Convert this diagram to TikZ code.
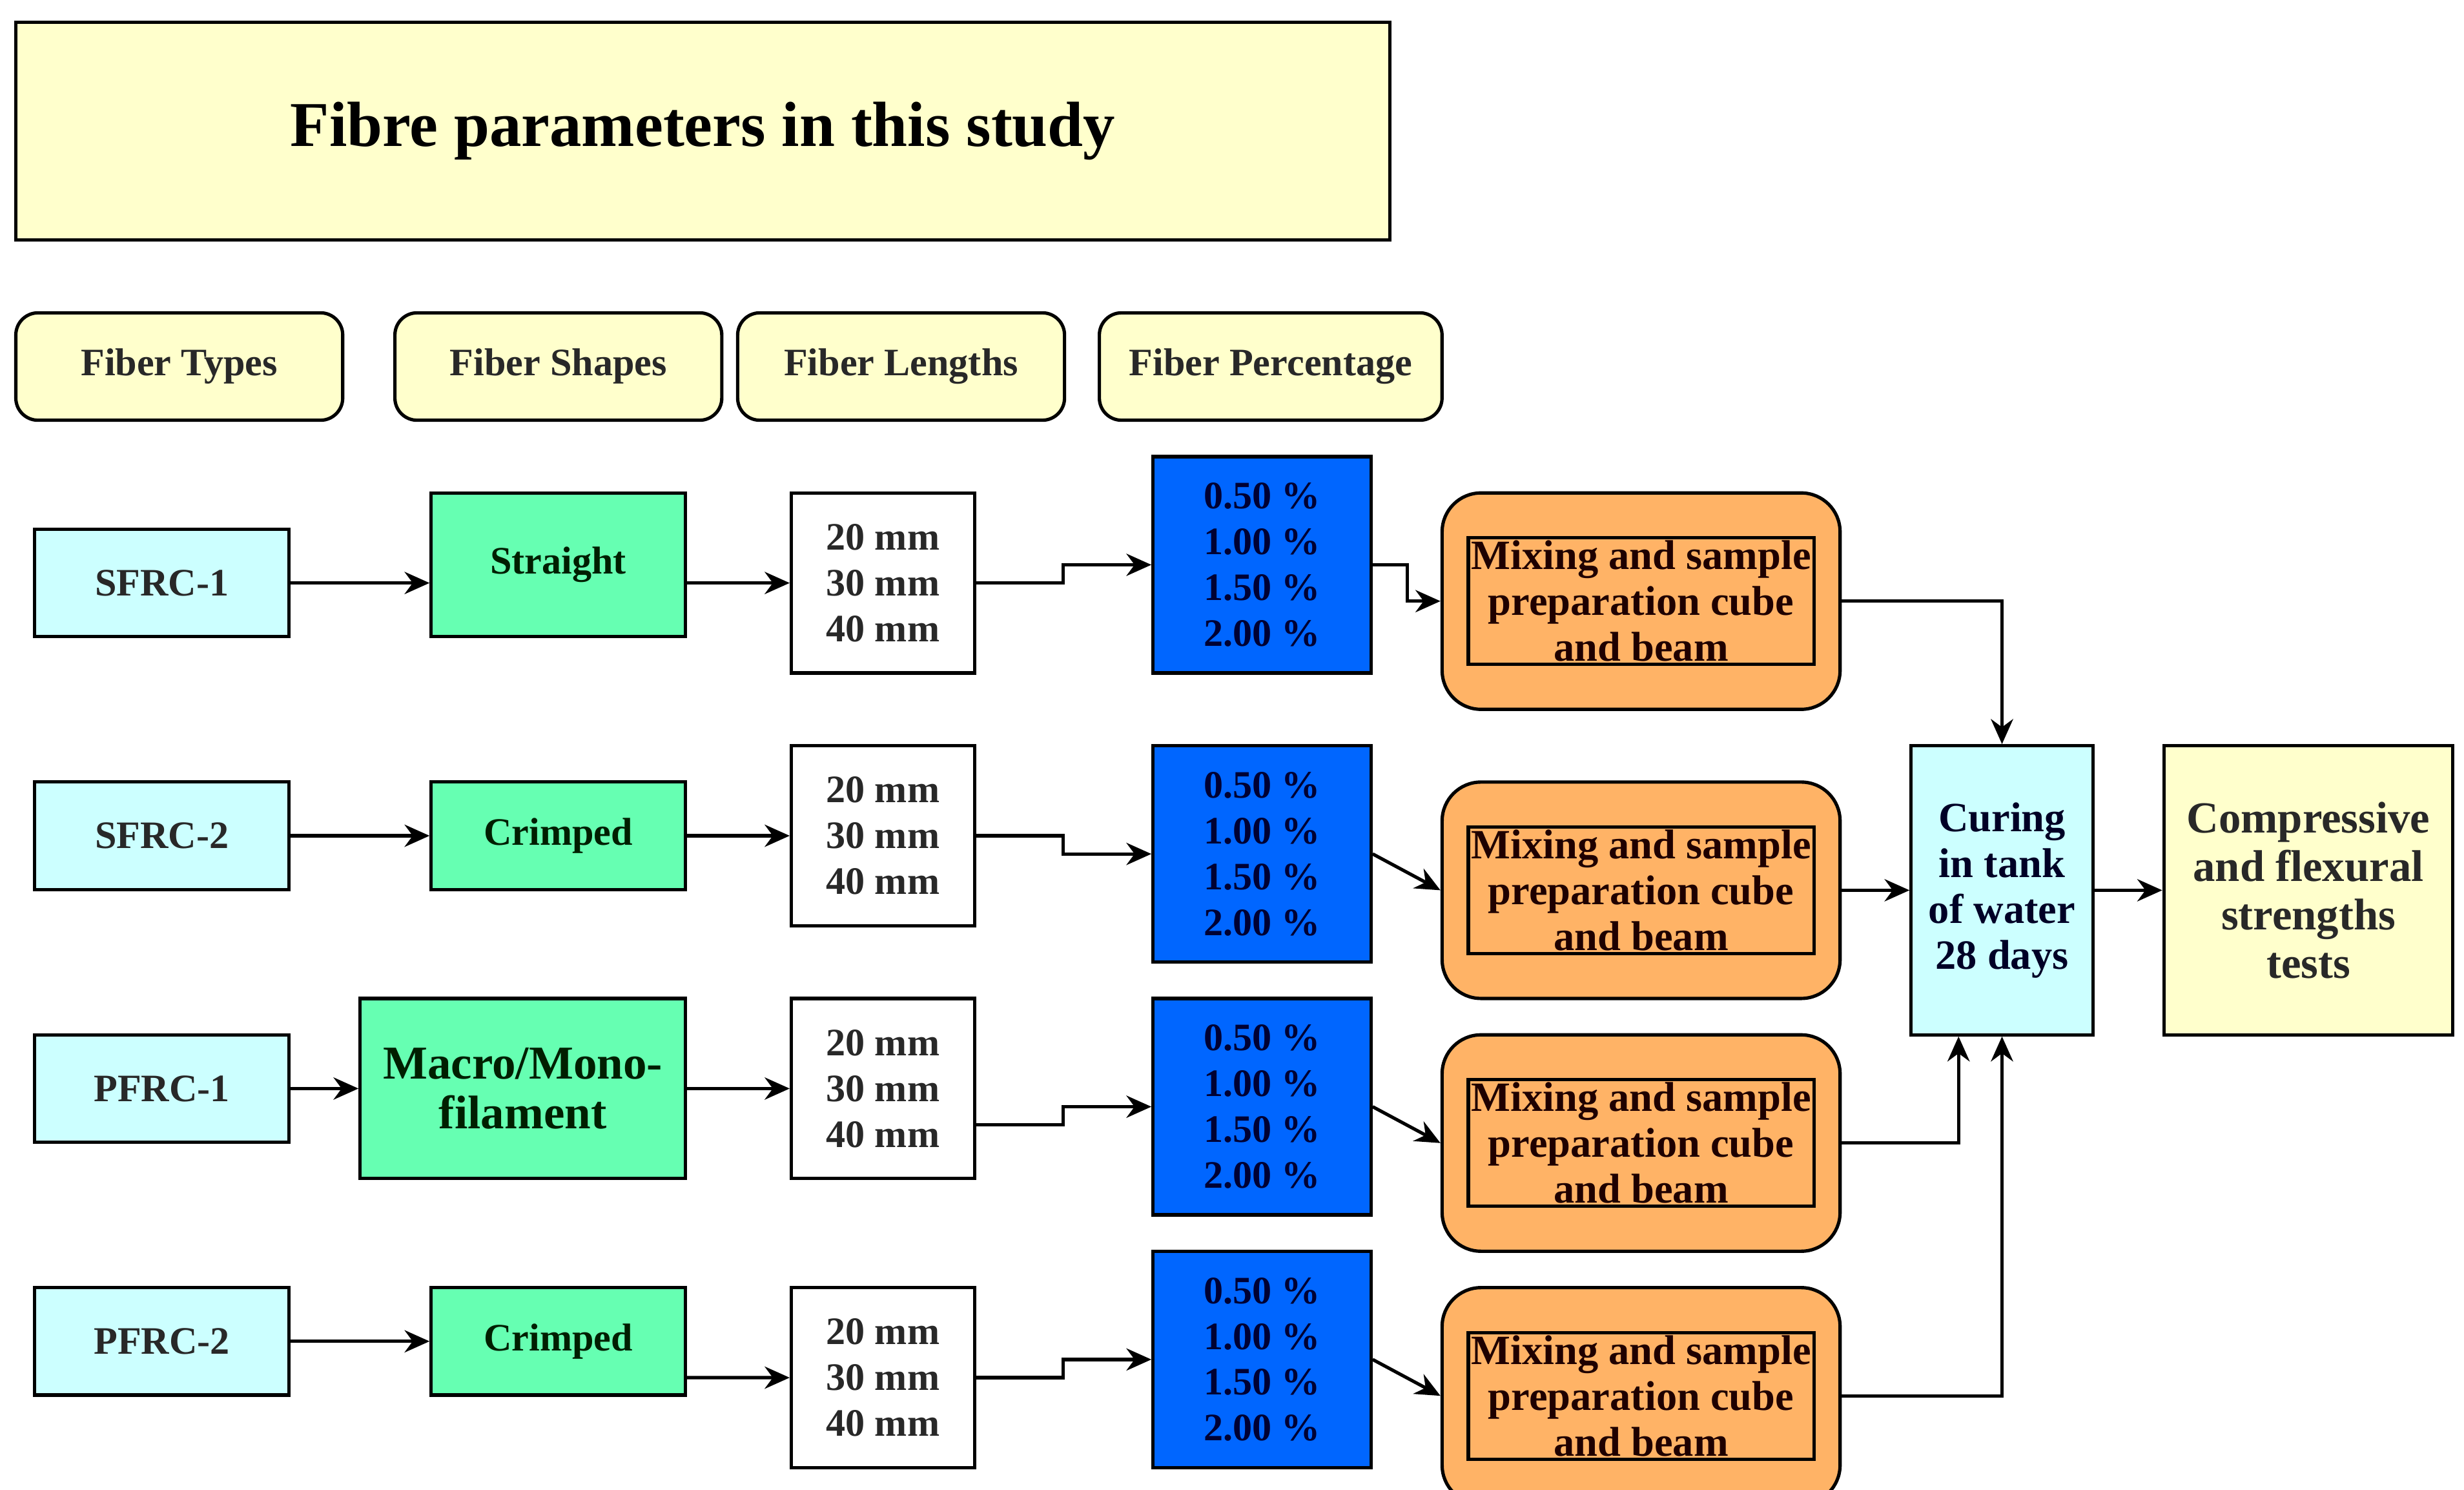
\documentclass[tikz,border=0pt]{standalone}
\usepackage{fontspec}
\setmainfont{Liberation Serif}
\usetikzlibrary{arrows.meta}
\definecolor{ylw}{RGB}{255,255,204}
\definecolor{cyn}{RGB}{204,255,255}
\definecolor{grn}{RGB}{102,255,178}
\definecolor{blu}{RGB}{0,102,255}
\definecolor{org}{RGB}{255,179,102}
\definecolor{txt}{RGB}{40,40,40}
\begin{document}
\begin{tikzpicture}[x=0.02cm,y=-0.02cm,
 base/.style={draw=black,line width=1.2pt,inner sep=1pt,align=center,font=\bfseries\fontsize{14}{15}\selectfont,text=txt},
 hdr/.style={base,fill=ylw,rounded corners=8pt,minimum height=1.36cm},
 typ/.style={base,fill=cyn,minimum width=3.22cm,minimum height=1.36cm},
 shp/.style={base,fill=grn,minimum width=3.22cm,minimum height=1.36cm,text=black!70!green!40!black},
 len/.style={base,fill=white,minimum width=2.32cm,minimum height=2.28cm,font=\bfseries\fontsize{14}{16.5}\selectfont},
 pct/.style={base,fill=blu,minimum width=2.76cm,minimum height=2.74cm,font=\bfseries\fontsize{14}{16.5}\selectfont,text=black!80!blue},
 mix/.style={base,fill=org,rounded corners=14pt,minimum width=5.04cm,minimum height=2.74cm,font=\bfseries\fontsize{15}{16.5}\selectfont,text=black!70!red!40!black},
 arr/.style={line width=1.2pt,-{Stealth[length=9pt,width=8pt]}}]
\useasboundingbox (0,0) rectangle (1560,943);
\node[base,fill=ylw,minimum width=17.4cm,minimum height=2.76cm,font=\bfseries\fontsize{23}{26}\selectfont,text=black] (title) at (445,83) {Fibre parameters in this study};
\node[hdr,minimum width=4.14cm] (h1) at (113.5,232) {Fiber Types};
\node[hdr,minimum width=4.14cm] (h2) at (353.5,232) {Fiber Shapes};
\node[hdr,minimum width=4.14cm] (h3) at (570.5,232) {Fiber Lengths};
\node[hdr,minimum width=4.34cm] (h4) at (804.5,232) {Fiber Percentage};
\node[typ] (T1) at (102.5,369) {SFRC-1};
\node[typ] (T2) at (102.5,529) {SFRC-2};
\node[typ] (T3) at (102.5,689) {PFRC-1};
\node[typ] (T4) at (102.5,849) {PFRC-2};
\node[shp,minimum height=1.82cm] (S1) at (353.5,357.5) {Straight};
\node[shp] (S2) at (353.5,529) {Crimped};
\node[shp,minimum width=4.12cm,minimum height=2.28cm,font=\bfseries\fontsize{17}{18}\selectfont] (S3) at (331,689) {Macro/Mono-\\filament};
\node[shp] (S4) at (353.5,849) {Crimped};
\foreach \n/\y in {1/369,2/529,3/689,4/872}
  \node[len] (L\n) at (559,\y) {20 mm\\30 mm\\40 mm};
\foreach \n/\y in {1/357.5,2/540.5,3/700.5,4/860.5}{
  \node[pct] (P\n) at (799,\y) {0.50 \%\\1.00 \%\\1.50 \%\\2.00 \%};
  \node[mix] (M\n) at (1039,\y+23) {};}
\foreach \n in {1,2,3,4}
  \node[base,font=\bfseries\fontsize{15}{16.5}\selectfont,text=black!70!red!40!black] at (M\n) {Mixing and sample\\preparation cube\\and beam};
\node[base,fill=cyn,minimum width=2.3cm,minimum height=3.66cm,font=\bfseries\fontsize{15}{16.5}\selectfont,text=black!50!blue!30!black] (C) at (1267.5,563.5) {Curing\\in tank\\of water\\28 days};
\node[base,fill=ylw,minimum width=3.66cm,minimum height=3.66cm,font=\bfseries\fontsize{16}{17.5}\selectfont] (R) at (1461.5,563.5) {Compressive\\and flexural\\strengths\\tests};
% row 1
\draw[arr] (T1.east) -- (T1.east -| S1.west);
\draw[arr] (S1.east |- L1.west) -- (L1.west);
\draw[arr] (L1.east) -- ++(1.1cm,0) |- (P1.west);
\draw[arr] (P1.east) -- ++(0.44cm,0) |- (M1.west);
\draw[arr] (M1.east) -| (C.north);
% row 2
\draw[arr] (T2.east) -- (S2.west);
\draw[arr] (S2.east) -- (L2.west);
\draw[arr] (L2.east) -- ++(1.1cm,0) |- (P2.west);
\draw[arr] (P2.east) -- (M2.west);
\draw[arr] (M2.east) -- (M2.east -| C.west);
% row 3
\draw[arr] (T3.east) -- (S3.west);
\draw[arr] (S3.east) -- (L3.west);
\draw[arr] ([yshift=-0.46cm]L3.east) -- ++(1.1cm,0) |- (P3.west);
\draw[arr] (P3.east) -- (M3.west);
\draw[arr] (M3.east) -| ([xshift=-0.55cm]C.south);
% row 4
\draw[arr] (T4.east) -- (S4.west);
\draw[arr] ([yshift=-0.46cm]S4.east) -- (L4.west);
\draw[arr] (L4.east) -- ++(1.1cm,0) |- (P4.west);
\draw[arr] (P4.east) -- (M4.west);
\draw[arr] (M4.east) -| (C.south);
\draw[arr] (C.east) -- (R.west);
\end{tikzpicture}
\end{document}
